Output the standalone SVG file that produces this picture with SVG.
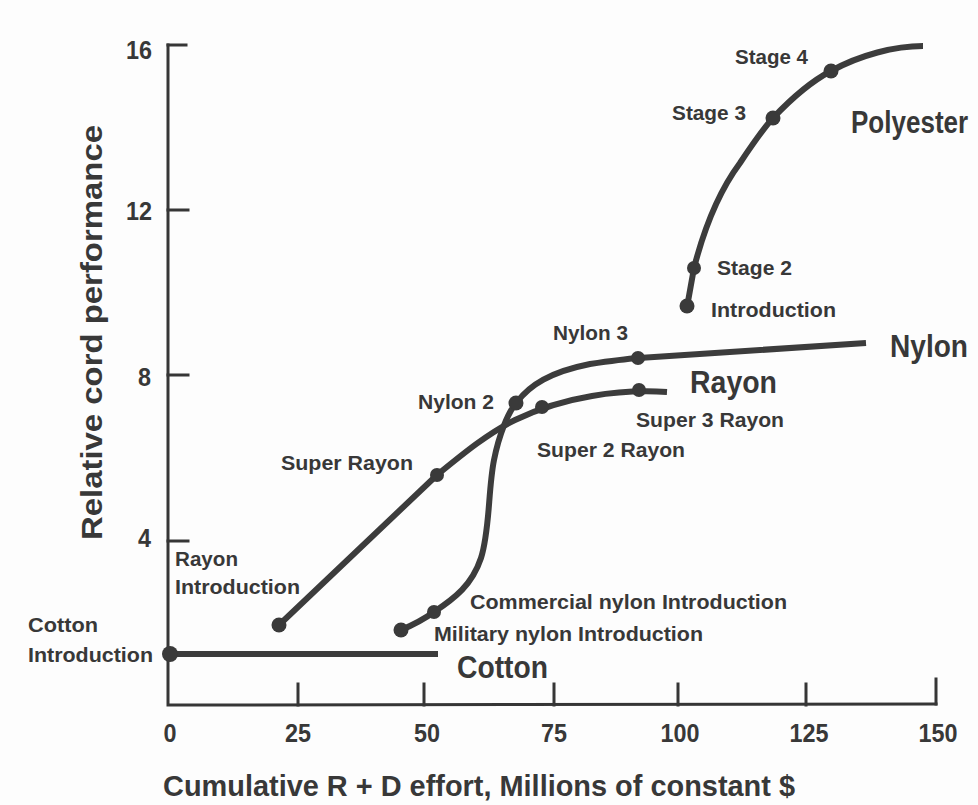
<svg xmlns="http://www.w3.org/2000/svg" width="978" height="805" viewBox="0 0 978 805">
  <style>
    .axis { stroke: #363636; stroke-width: 3; fill: none; stroke-linecap: square; }
    .curve { stroke: #3c3c3c; stroke-width: 6; fill: none; stroke-linecap: butt; stroke-linejoin: round; }
    .dot { fill: #3a3a3a; }
    text { font-family: "Liberation Sans", Arial, sans-serif; font-weight: bold; fill: #383838; }
    .tick { font-size: 26px; }
    .lbl { font-size: 21px; }
    .big { font-size: 31px; }
    .title { font-size: 29px; }
  </style>

  <rect x="0" y="0" width="978" height="805" fill="#fdfdfd"/>

  <!-- axes and ticks -->
  <g id="axes">
    <path class="axis" d="M168,45 L168,705 L936,704"/>
    <path class="axis" d="M168,45 H186 M168,210 H188 M168,375 H188 M168,541 H188"/>
    <path class="axis" d="M298,684 V705 M424,684 V705 M554,684 V705 M678,684 V705 M806,684 V705 M936,679 V704"/>
    <text class="tick" x="152" y="59" text-anchor="end" textLength="26" lengthAdjust="spacingAndGlyphs">16</text>
    <text class="tick" x="152" y="220" text-anchor="end" textLength="26" lengthAdjust="spacingAndGlyphs">12</text>
    <text class="tick" x="151" y="386" text-anchor="end" textLength="13" lengthAdjust="spacingAndGlyphs">8</text>
    <text class="tick" x="151" y="547" text-anchor="end" textLength="13" lengthAdjust="spacingAndGlyphs">4</text>
    <text class="tick" x="170" y="742" text-anchor="middle" textLength="13" lengthAdjust="spacingAndGlyphs">0</text>
    <text class="tick" x="298" y="742" text-anchor="middle" textLength="26" lengthAdjust="spacingAndGlyphs">25</text>
    <text class="tick" x="427" y="742" text-anchor="middle" textLength="26" lengthAdjust="spacingAndGlyphs">50</text>
    <text class="tick" x="554" y="742" text-anchor="middle" textLength="26" lengthAdjust="spacingAndGlyphs">75</text>
    <text class="tick" x="680" y="742" text-anchor="middle" textLength="39" lengthAdjust="spacingAndGlyphs">100</text>
    <text class="tick" x="809" y="742" text-anchor="middle" textLength="39" lengthAdjust="spacingAndGlyphs">125</text>
    <text class="tick" x="938" y="742" text-anchor="middle" textLength="39" lengthAdjust="spacingAndGlyphs">150</text>
    <text class="title" x="163" y="796" textLength="632" lengthAdjust="spacingAndGlyphs">Cumulative R + D effort, Millions of constant $</text>
    <text class="title" transform="translate(102,540) rotate(-90)" x="0" y="0" textLength="415" lengthAdjust="spacingAndGlyphs">Relative cord performance</text>
  </g>

  <!-- cotton -->
  <g id="cotton">
    <path class="curve" d="M170,654 L438,654" stroke-width="9"/>
    <circle class="dot" cx="170" cy="654" r="8"/>
    <text class="lbl" x="28" y="632" textLength="70" lengthAdjust="spacingAndGlyphs">Cotton</text>
    <text class="lbl" x="28" y="662" textLength="125" lengthAdjust="spacingAndGlyphs">Introduction</text>
    <text class="big" x="457" y="678" textLength="91" lengthAdjust="spacingAndGlyphs">Cotton</text>
  </g>

  <!-- rayon -->
  <g id="rayon">
    <path class="curve" d="M279,625 L437,475 C465,452 490,432 515,420 C540,408 562,401 592,396 C615,392 635,390 667,392"/>
    <circle class="dot" cx="279" cy="625" r="7.5"/>
    <circle class="dot" cx="437" cy="475" r="7"/>
    <circle class="dot" cx="542" cy="407" r="7"/>
    <circle class="dot" cx="639" cy="390" r="7"/>
    <text class="lbl" x="175" y="566" textLength="63" lengthAdjust="spacingAndGlyphs">Rayon</text>
    <text class="lbl" x="175" y="594" textLength="125" lengthAdjust="spacingAndGlyphs">Introduction</text>
    <text class="lbl" x="281" y="470" textLength="132" lengthAdjust="spacingAndGlyphs">Super Rayon</text>
    <text class="lbl" x="537" y="457" textLength="148" lengthAdjust="spacingAndGlyphs">Super 2 Rayon</text>
    <text class="lbl" x="636" y="427" textLength="148" lengthAdjust="spacingAndGlyphs">Super 3 Rayon</text>
    <text class="big" x="690" y="393" textLength="87" lengthAdjust="spacingAndGlyphs">Rayon</text>
  </g>

  <!-- nylon -->
  <g id="nylon">
    <path class="curve" d="M401,630 Q420,622 434,612 C455,598 472,585 481,558 C490,530 488,490 494,460 C499,435 508,412 517,402 C530,385 550,372 590,364 C610,361 625,359 639,358 L866,343"/>
    <circle class="dot" cx="401" cy="630" r="7.5"/>
    <circle class="dot" cx="434" cy="612" r="7"/>
    <circle class="dot" cx="516" cy="403" r="7.5"/>
    <circle class="dot" cx="638" cy="358" r="7"/>
    <text class="lbl" x="470" y="609" textLength="317" lengthAdjust="spacingAndGlyphs">Commercial nylon Introduction</text>
    <text class="lbl" x="434" y="641" textLength="269" lengthAdjust="spacingAndGlyphs">Military nylon Introduction</text>
    <text class="lbl" x="418" y="409" textLength="76" lengthAdjust="spacingAndGlyphs">Nylon 2</text>
    <text class="lbl" x="553" y="340" textLength="75" lengthAdjust="spacingAndGlyphs">Nylon 3</text>
    <text class="big" x="890" y="357" textLength="78" lengthAdjust="spacingAndGlyphs">Nylon</text>
  </g>

  <!-- polyester -->
  <g id="polyester">
    <path class="curve" d="M687,307 L694,268 C705,225 720,190 740,163 C752,145 762,130 773,118 C790,100 810,82 831,71 C860,55 895,46 923,46"/>
    <circle class="dot" cx="687" cy="306" r="7.5"/>
    <circle class="dot" cx="694" cy="268" r="7"/>
    <circle class="dot" cx="773" cy="118" r="7.5"/>
    <circle class="dot" cx="831" cy="71" r="7.5"/>
    <text class="lbl" x="711" y="317" textLength="125" lengthAdjust="spacingAndGlyphs">Introduction</text>
    <text class="lbl" x="717" y="275" textLength="75" lengthAdjust="spacingAndGlyphs">Stage 2</text>
    <text class="lbl" x="672" y="120" textLength="74" lengthAdjust="spacingAndGlyphs">Stage 3</text>
    <text class="lbl" x="735" y="64" textLength="73" lengthAdjust="spacingAndGlyphs">Stage 4</text>
    <text class="big" transform="translate(851,133) scale(0.84,1)" x="0" y="0">Polyester</text>
  </g>
</svg>
